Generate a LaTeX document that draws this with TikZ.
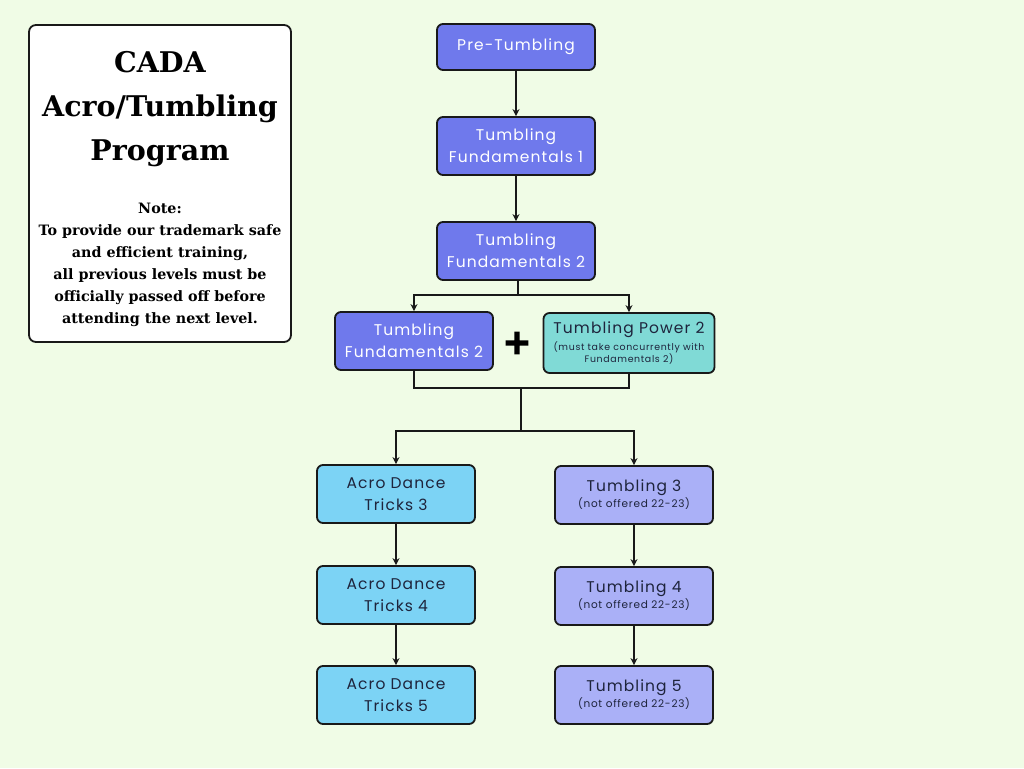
\documentclass[tikz,border=0pt]{standalone}
\usepackage{fontspec}
\usepackage{tikz}
\usetikzlibrary{arrows.meta, positioning, fit}
\setmainfont{DejaVu Serif}
\newfontfamily\boxfont[LetterSpace=7]{Poppins}
\newfontfamily\plusfont[FakeBold=4]{DejaVu Sans Bold}
\newcommand{\subsize}{\fontsize{10.5}{12}\selectfont}
\newcommand{\tinysize}{\fontsize{9.4}{12}\selectfont}

\begin{document}
\begin{tikzpicture}[x=1pt, y=-1pt, >={Stealth[length=7pt,width=7pt]},
		level/.style={draw=black!90, line width=1.8pt, rounded corners=6pt,
			minimum width=158pt, minimum height=58pt, inner sep=0pt, align=center,
			font=\boxfont\fontsize{15.5}{22}\selectfont},
		conn/.style={line width=1.7pt, black!90}
		]
		\definecolor{bgcol}{RGB}{240,252,230}
		\definecolor{mpurple}{RGB}{111,121,236}
		\definecolor{mteal}{RGB}{128,218,214}
		\definecolor{msky}{RGB}{124,211,245}
		\definecolor{mlav}{RGB}{170,176,247}
		\definecolor{mink}{RGB}{30,36,60}

		% Background
		\fill[bgcol] (0,0) rectangle (1024,768);
		\useasboundingbox (0,0) rectangle (1024,768);

		% Note box
		\node[draw=black!90, line width=1.8pt, rounded corners=7pt, fill=white,
			fit={(29,25) (291,342)}, inner sep=0pt] (note) {};
		\node[align=center, font=\bfseries\fontsize{28.5}{44}\selectfont] (title) at (160,109)
			{CADA\\Acro/Tumbling\\Program};
		\node[align=center, font=\bfseries\fontsize{14.3}{22}\selectfont] (notetext) at (160,265)
			{Note:\\To provide our trademark safe\\and efficient training,\\all previous levels must be\\officially passed off before\\attending the next level.};

		% Main column
		\node[level, fill=mpurple, text=white, minimum height=46pt] (pre) at (516,47) {Pre-Tumbling};
		\node[level, fill=mpurple, text=white] (tfa) at (516,146) {Tumbling\\Fundamentals 1};
		\node[level, fill=mpurple, text=white] (tfb) at (516,251) {Tumbling\\Fundamentals 2};

		% Concurrent pair
		\node[level, fill=mteal, text=mink, minimum width=171pt, minimum height=60pt] (tpw) at (629,343)
			{Tumbling Power 2\\[-5pt]\tinysize (must take concurrently with\\[-10pt]\tinysize Fundamentals 2)};
		\node[level, fill=mpurple, text=white] (tfc) at (414,341) {Tumbling\\Fundamentals 2};
		\node[font=\plusfont\fontsize{34}{34}\selectfont] (plus) at (517,343) {+};

		% Acro branch
		\node[level, fill=msky, text=mink] (acra) at (396,494) {Acro Dance\\Tricks 3};
		\node[level, fill=msky, text=mink] (acrb) at (396,595) {Acro Dance\\Tricks 4};
		\node[level, fill=msky, text=mink] (acrc) at (396,695) {Acro Dance\\Tricks 5};

		% Tumbling branch
		\node[level, fill=mlav, text=mink] (tuma) at (634,495)
			{Tumbling 3\\[-6pt]\subsize (not offered 22-23)};
		\node[level, fill=mlav, text=mink] (tumb) at (634,596)
			{Tumbling 4\\[-6pt]\subsize (not offered 22-23)};
		\node[level, fill=mlav, text=mink] (tumc) at (634,695)
			{Tumbling 5\\[-6pt]\subsize (not offered 22-23)};

		% Edges
		\coordinate (split) at (518,295);
		\coordinate (join) at (521,388);
		\coordinate (fork) at (521,431);
		\draw[conn, ->] (pre) -- (tfa);
		\draw[conn, ->] (tfa) -- (tfb);
		\draw[conn] (tfb.south -| split) -- (split);
		\draw[conn, ->] (split) -| (tfc.north);
		\draw[conn, ->] (split) -| (tpw.north);
		\draw[conn] (tfc.south) |- (join);
		\draw[conn] (tpw.south) |- (join);
		\draw[conn] (join) -- (fork);
		\draw[conn, ->] (fork) -| (acra.north);
		\draw[conn, ->] (fork) -| (tuma.north);
		\draw[conn, ->] (acra) -- (acrb);
		\draw[conn, ->] (acrb) -- (acrc);
		\draw[conn, ->] (tuma) -- (tumb);
		\draw[conn, ->] (tumb) -- (tumc);
	\end{tikzpicture}
\end{document}
